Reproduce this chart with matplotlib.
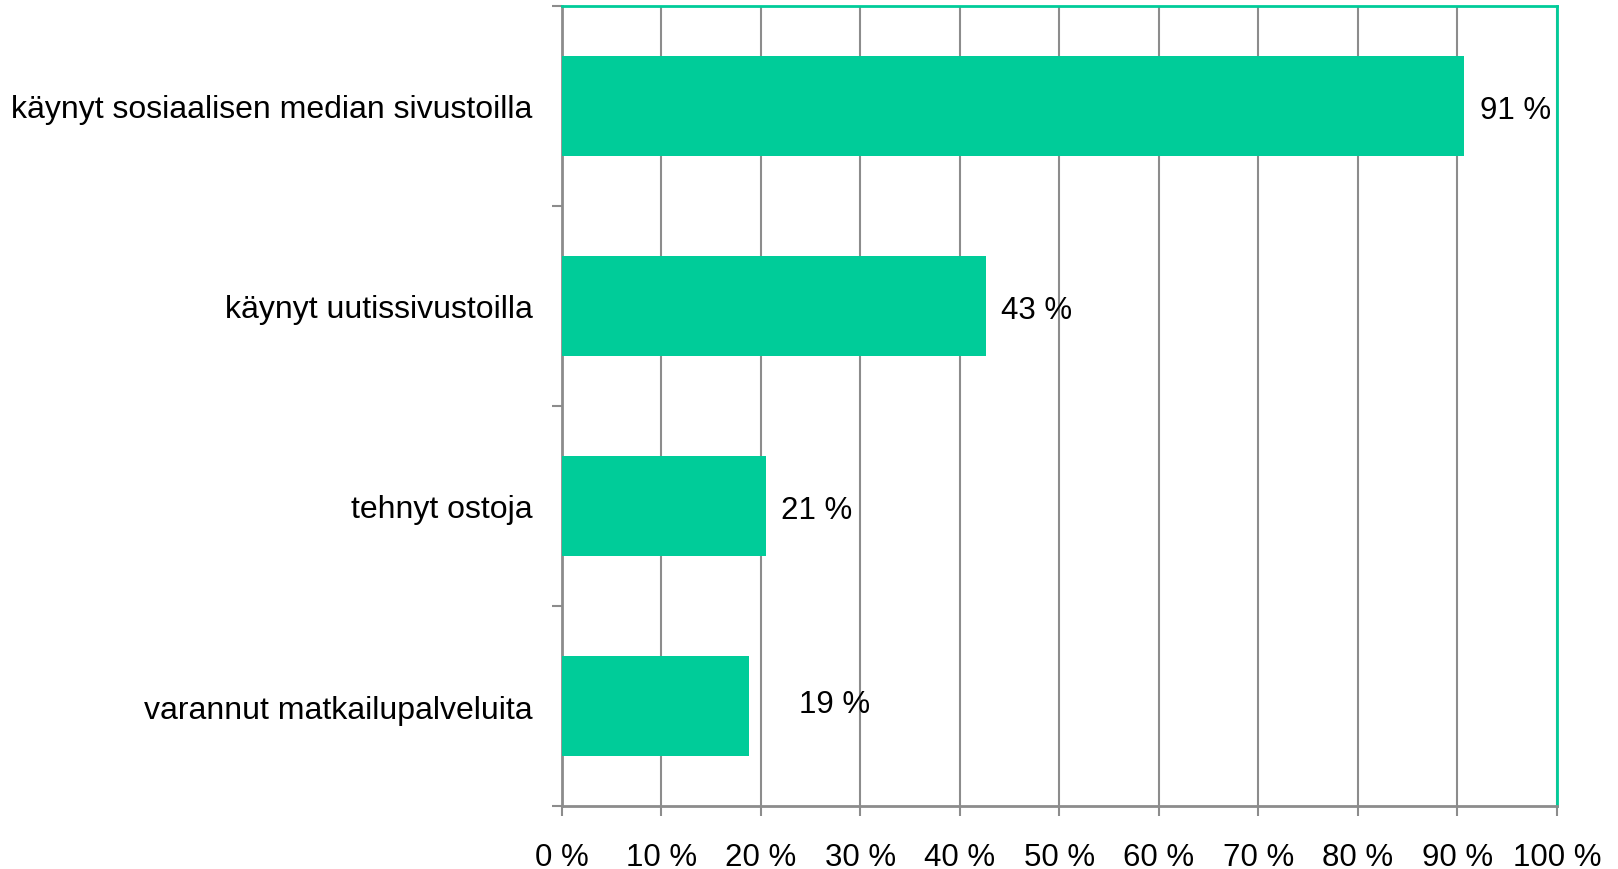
import numpy as np
import matplotlib.pyplot as plt
from matplotlib.ticker import FixedLocator, PercentFormatter

plt.rcParams['font.family'] = ['Liberation Sans', 'DejaVu Sans']

categories = ['käynyt sosiaalisen median sivustoilla', 'käynyt uutissivustoilla',
              'tehnyt ostoja', 'varannut matkailupalveluita']
values = [90.7, 42.6, 20.5, 18.8]
value_labels = ['91 %', '43 %', '21 %', '19 %']
x_ticks = list(range(0, 101, 10))

green = '#00CC99'
grey = '#8C8C8C'

fig = plt.figure(figsize=(16.18, 8.70), dpi=100)
ax = fig.add_axes([0.3473, 0.0724, 0.6150, 0.9196])

pos = np.arange(len(categories))[::-1]
ax.barh(pos, values, height=0.5, color=green, zorder=3)

for p, v, lab in zip(pos, values, value_labels):
    dx, dy = (11, -3)
    if lab == '19 %':
        dx, dy = (36, 1.5)
    ax.annotate(lab, (v, p), xytext=(dx, dy), textcoords='offset points',
                ha='left', va='center', fontsize=22.5, color='black')

ax.set_xlim(0, 100)
ax.set_ylim(-0.5, len(categories) - 0.5)
ax.set_xticks(x_ticks)
ax.xaxis.set_major_formatter(PercentFormatter(decimals=0, symbol=' %'))
ax.set_yticks(pos)
ax.set_yticklabels(categories)
ax.yaxis.set_minor_locator(FixedLocator(np.arange(-0.5, len(categories), 1)))

ax.tick_params(axis='y', which='major', length=0, pad=21, labelsize=23)
ax.tick_params(axis='y', which='minor', length=7, width=1.5, color=grey, direction='out')
ax.tick_params(axis='x', length=7, width=1.5, color=grey, pad=19, labelsize=22.5)

ax.grid(axis='x', color=grey, linewidth=1.5, zorder=0)
ax.set_axisbelow(True)

for side in ['left', 'bottom']:
    ax.spines[side].set_color(grey)
    ax.spines[side].set_linewidth(2)
for side in ['top', 'right']:
    ax.spines[side].set_color(green)
    ax.spines[side].set_linewidth(2)

fig.savefig('out.png', dpi=100)
